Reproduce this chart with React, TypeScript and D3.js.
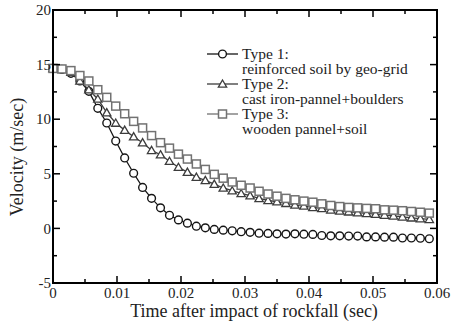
import React from 'react'
import { scaleLinear, line, symbol, symbolTriangle, range } from 'd3'

const width = 451
const height = 330
const margin = { top: 10, right: 14, bottom: 47, left: 53 }
const innerWidth = width - margin.left - margin.right
const innerHeight = height - margin.top - margin.bottom

// time after impact (sec)
const time = [0, 0.0014, 0.0028, 0.0042, 0.0056, 0.007, 0.0084, 0.0098, 0.0112, 0.0126, 0.014, 0.0154, 0.0168, 0.0182, 0.0196, 0.021, 0.0224, 0.0238, 0.0252, 0.0266, 0.028, 0.0294, 0.0308, 0.0322, 0.0336, 0.035, 0.0364, 0.0378, 0.0392, 0.0406, 0.042, 0.0434, 0.0448, 0.0462, 0.0476, 0.049, 0.0504, 0.0518, 0.0532, 0.0546, 0.056, 0.0574, 0.0588]

// Type 1: reinforced soil by geo-grid
const type1 = [14.65, 14.55, 14.2, 13.5, 12.55, 11.0, 9.65, 8.0, 6.45, 5.05, 3.75, 2.75, 1.88, 1.2, 0.78, 0.48, 0.2, 0.05, -0.09, -0.16, -0.22, -0.3, -0.36, -0.44, -0.46, -0.5, -0.52, -0.5, -0.53, -0.55, -0.65, -0.68, -0.68, -0.7, -0.7, -0.78, -0.78, -0.8, -0.8, -0.88, -0.88, -0.9, -0.95]
// Type 2: cast iron-pannel+boulders
const type2 = [14.65, 14.55, 14.3, 13.5, 12.7, 11.85, 10.6, 9.65, 9.0, 8.4, 7.85, 7.15, 6.75, 6.15, 5.6, 5.15, 4.7, 4.4, 4.05, 3.7, 3.45, 3.2, 3.0, 2.75, 2.56, 2.44, 2.3, 2.15, 2.05, 1.92, 1.83, 1.7, 1.6, 1.52, 1.44, 1.37, 1.3, 1.22, 1.15, 1.06, 0.97, 0.9, 0.83]
// Type 3: wooden pannel+soil
const type3 = [14.65, 14.6, 14.45, 14.0, 13.5, 12.7, 12.0, 11.2, 10.5, 9.8, 9.2, 8.5, 7.85, 7.35, 6.8, 6.35, 5.9, 5.4, 4.95, 4.6, 4.25, 3.95, 3.7, 3.4, 3.15, 2.95, 2.75, 2.62, 2.5, 2.4, 2.25, 2.1, 2.0, 1.92, 1.88, 1.83, 1.8, 1.7, 1.67, 1.62, 1.55, 1.48, 1.4]

const xTicks = [0, 0.01, 0.02, 0.03, 0.04, 0.05, 0.06]
const yTicks = [-5, 0, 5, 10, 15, 20]
const xTickLabels = ['0', '0.01', '0.02', '0.03', '0.04', '0.05', '0.06']

const legendLabels = [
  ['Type 1:', 'reinforced soil by geo-grid'],
  ['Type 2:', 'cast iron-pannel+boulders'],
  ['Type 3:', 'wooden pannel+soil'],
]

const font = "'Liberation Serif', 'Times New Roman', serif"
const colors = ['#151515', '#3c3c3c', '#727272']

function Marker({ kind, x, y, color }: { kind: number; x: number; y: number; color: string }) {
  if (kind === 0) return <circle cx={x} cy={y} r={3.9} fill="#fff" stroke={color} strokeWidth={1.4} />
  if (kind === 1) {
    const tri = symbol().type(symbolTriangle).size(30)()
    return <path d={tri || ''} transform={`translate(${x},${y + 0.8})`} fill="#fff" stroke={color} strokeWidth={1.3} />
  }
  return <rect x={x - 4} y={y - 4} width={8} height={8} fill="#fff" stroke={color} strokeWidth={1.5} />
}

export default function App() {
  const xScale = scaleLinear().domain([0, 0.06]).range([0, innerWidth])
  const yScale = scaleLinear().domain([-5, 20]).range([innerHeight, 0])
  const series = [type1, type2, type3]
  const lineGen = line<number>()
    .x((_, i) => xScale(time[i]))
    .y((d) => yScale(d))

  const xMinor = range(0, 0.0601, 0.005)
  const yMinor = range(-5, 20.1, 2.5)

  return (
    <svg width={width} height={height} style={{ position: 'absolute', left: 0, top: 0, background: '#fff' }}>
      <g transform={`translate(${margin.left},${margin.top})`}>
        {/* series: circles first, squares on top */}
        {series.map((s, k) => (
          <g key={k}>
            <path d={lineGen(s) || ''} fill="none" stroke={colors[k]} strokeWidth={1.3} />
            {s.map((v, i) => (
              <Marker key={i} kind={k} x={xScale(time[i])} y={yScale(v)} color={colors[k]} />
            ))}
          </g>
        ))}

        {/* inward ticks on all sides */}
        {xMinor.map((t, i) => {
          const len = i % 2 === 0 ? 7 : 4
          const x = xScale(t)
          return (
            <g key={'xt' + i} stroke="#000" strokeWidth={1.5}>
              <line x1={x} x2={x} y1={innerHeight} y2={innerHeight - len} />
              <line x1={x} x2={x} y1={0} y2={len} />
            </g>
          )
        })}
        {yMinor.map((v, i) => {
          const len = i % 2 === 0 ? 7 : 4
          const y = yScale(v)
          return (
            <g key={'yt' + i} stroke="#000" strokeWidth={1.5}>
              <line x1={0} x2={len} y1={y} y2={y} />
              <line x1={innerWidth} x2={innerWidth - len} y1={y} y2={y} />
            </g>
          )
        })}
        <rect x={0} y={0} width={innerWidth} height={innerHeight} fill="none" stroke="#000" strokeWidth={2} />

        {xTicks.map((t, i) => (
          <text key={'xl' + i} x={xScale(t)} y={innerHeight + 15} textAnchor="middle" fontFamily={font} fontSize={15} fill="#222">
            {xTickLabels[i]}
          </text>
        ))}
        {yTicks.map((v) => (
          <text key={'yl' + v} x={-2} y={yScale(v)} dy="0.35em" textAnchor="end" fontFamily={font} fontSize={15} fill="#222">
            {v}
          </text>
        ))}

        {/* legend */}
        {legendLabels.map((lab, k) => {
          const y = 44 + k * 30
          return (
            <g key={'lg' + k}>
              <line x1={154} x2={185} y1={y} y2={y} stroke={colors[k]} strokeWidth={1.3} />
              <Marker kind={k} x={169.5} y={y} color={colors[k]} />
              <text x={189} y={y} dy="0.35em" fontFamily={font} fontSize={15.5} fill="#222">{lab[0]}</text>
              <text x={189} y={y + 15} dy="0.35em" fontFamily={font} fontSize={15.5} fill="#222">{lab[1]}</text>
            </g>
          )
        })}
      </g>

      <text x={254} y={317} textAnchor="middle" fontFamily={font} fontSize={18} fill="#222">
        Time after impact of rockfall (sec)
      </text>
      <text transform={`translate(23,157) rotate(-90)`} textAnchor="middle" fontFamily={font} fontSize={18} fill="#222">
        Velocity (m/sec)
      </text>
    </svg>
  )
}
